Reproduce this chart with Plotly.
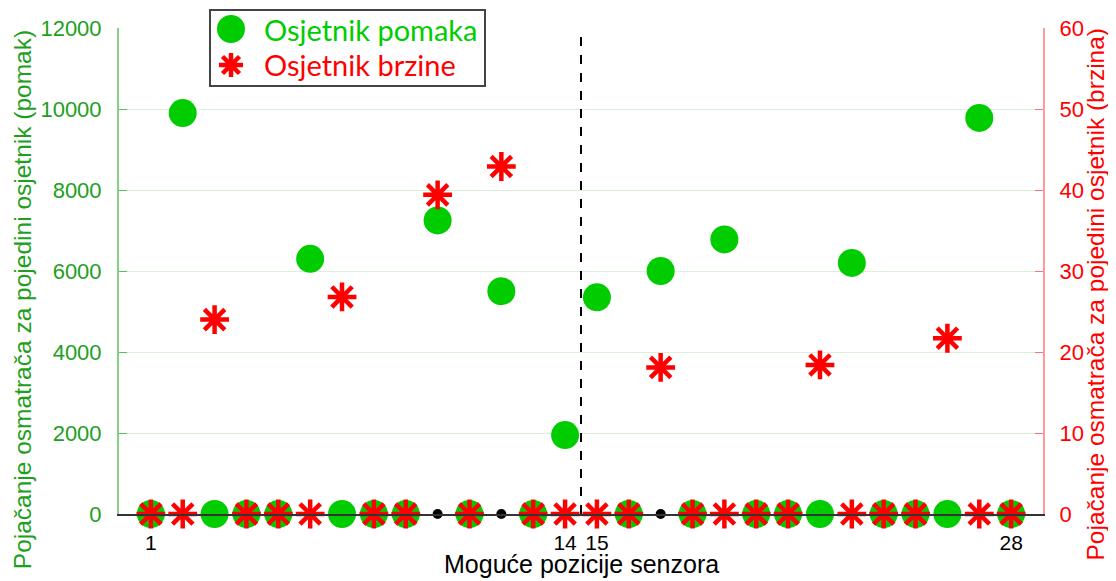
import plotly.graph_objects as go

# sensor positions 1..28
positions = list(range(1, 29))

# gain per sensor, displacement sensor (left axis)
pomak = [0, 9900, 0, 0, 0, 6300, 0, 0, 0, 7250, 0, 5500, 0, 1950,
         5350, 0, 6000, 0, 6780, 0, 0, 0, 6200, 0, 0, 0, 9780, 0]

# gain per sensor, velocity sensor (right axis)
brzina = [0, 0, 24.0, 0, 0, 0, 26.8, 0, 0, 39.4, 0, 42.9, 0, 0,
          0, 0, 18.1, 0, 0, 0, 0, 18.4, 0, 0, 0, 21.7, 0, 0]

# positions where both sensors are placed (only the black position dot shows at zero)
empty_positions = [10, 12, 17]
empty_zero = [0, 0, 0]

x_ticks = [1, 14, 15, 28]
split_at = 14.5

series_names = ["Osjetnik pomaka", "Osjetnik brzine"]

GREEN = "#00cc00"
GREEN_TXT = "#1ea01e"
RED = "#ff0000"
FONT = "Liberation Sans, Arial, sans-serif"
TICK_FONT = dict(family=FONT, size=22)

fig = go.Figure()

fig.add_trace(go.Scatter(
    x=empty_positions, y=empty_zero, mode="markers",
    marker=dict(color="black", size=10),
    cliponaxis=False, hoverinfo="skip",
))
fig.add_trace(go.Scatter(
    x=positions, y=pomak, mode="markers", name=series_names[0],
    marker=dict(color=GREEN, size=28, symbol="circle"),
    cliponaxis=False,
))
fig.add_trace(go.Scatter(
    x=positions, y=brzina, mode="markers", yaxis="y2", name=series_names[1],
    marker=dict(color=RED, size=24, symbol="asterisk-open",
                line=dict(color=RED, width=4.5)),
    cliponaxis=False,
))

fig.add_shape(type="line", x0=split_at, x1=split_at, y0=0, y1=1,
              xref="x", yref="paper",
              line=dict(color="black", width=2, dash="dash"))

# boxed legend drawn by hand (plotly's legend caps symbol size and pushes margins)
LEG_SYM_X = 0.1212
LEG_TXT_X = 0.1548
LEG_ROWS = [0.9979, 0.9239]
fig.add_shape(type="rect", xref="paper", yref="paper",
              x0=0.0985, x1=0.3961, y0=0.8807, y1=1.037,
              fillcolor="white", line=dict(color="#444444", width=2), layer="above")
fig.add_shape(type="circle", xref="paper", yref="paper",
              xsizemode="pixel", ysizemode="pixel",
              xanchor=LEG_SYM_X, yanchor=LEG_ROWS[0],
              x0=-14, x1=14, y0=-14, y1=14,
              fillcolor=GREEN, line=dict(width=0), layer="above")
fig.add_shape(type="path", xref="paper", yref="paper",
              xsizemode="pixel", ysizemode="pixel",
              xanchor=LEG_SYM_X, yanchor=LEG_ROWS[1],
              path="M-12,0 L12,0 M0,-12 L0,12 M-8.5,-8.5 L8.5,8.5 M-8.5,8.5 L8.5,-8.5",
              line=dict(color=RED, width=4.5), layer="above")
for row_y, color, name in zip(LEG_ROWS, [GREEN, RED], series_names):
    fig.add_annotation(text=name, xref="paper", yref="paper", x=LEG_TXT_X, y=row_y,
                       xanchor="left", yanchor="middle", showarrow=False,
                       font=dict(family="Lato, Open Sans, sans-serif", size=29, color=color))

# axis titles as annotations so they sit exactly where the reference has them
fig.add_annotation(text="Moguće pozicije senzora", xref="paper", yref="paper",
                   x=0.5, y=-0.103, xanchor="center", yanchor="middle",
                   showarrow=False, font=dict(family=FONT, size=25, color="black"))
fig.add_annotation(text="Pojačanje osmatrača za pojedini osjetnik (pomak)",
                   xref="paper", yref="paper", x=-0.105, y=0.442,
                   xanchor="center", yanchor="middle", textangle=-90,
                   showarrow=False, font=dict(family=FONT, size=24.5, color=GREEN_TXT))
fig.add_annotation(text="Pojačanje osmatrača za pojedini osjetnik (brzina)",
                   xref="paper", yref="paper", x=1.057, y=0.451,
                   xanchor="center", yanchor="middle", textangle=-90,
                   showarrow=False, font=dict(family=FONT, size=24.5, color=RED))

# page body has an 8px margin, so the figure is 8px smaller than the window
fig.update_layout(
    width=1108, height=573,
    margin=dict(l=111, r=73, t=20, b=67),
    showlegend=False,
    plot_bgcolor="white", paper_bgcolor="white",
    font=dict(family=FONT, color="black"),
    xaxis=dict(
        range=[0, 29], tickvals=x_ticks, showgrid=False, zeroline=False,
        showline=True, linecolor="#333333", linewidth=2, ticks="",
        automargin=False, ticklabelstandoff=9,
        tickfont=dict(family=FONT, size=21, color="black"),
    ),
    yaxis=dict(
        range=[0, 12000], dtick=2000, tickformat="d",
        showgrid=True, gridcolor="#dcf0dc",
        gridwidth=1, zeroline=False, showline=True, linecolor="#86cf86",
        linewidth=2, ticks="inside", ticklen=8, tickcolor="#5cbf5c",
        automargin=False, ticklabelstandoff=11,
        tickfont=dict(TICK_FONT, color=GREEN_TXT),
    ),
    yaxis2=dict(
        range=[0, 60], dtick=10, overlaying="y", side="right",
        showgrid=False, zeroline=False, showline=True, linecolor="#ff9a9a",
        linewidth=2, ticks="inside", ticklen=8, tickcolor="#ff7070",
        automargin=False, ticklabelstandoff=10,
        tickfont=dict(TICK_FONT, color=RED),
    ),
)

fig.write_html("out.html")
